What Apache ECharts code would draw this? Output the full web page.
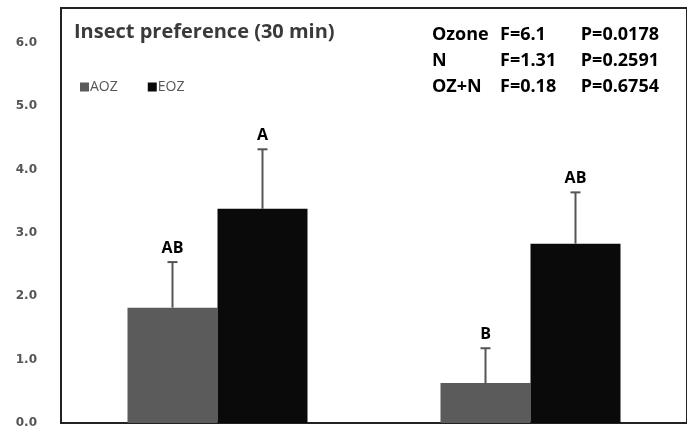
<!DOCTYPE html>
<html>
<head>
<meta charset="utf-8">
<script src="https://cdn.jsdelivr.net/npm/echarts@6/dist/echarts.min.js"></script>
<style>
html,body{margin:0;padding:0;background:#fff;}
#c{width:687px;height:429px;}
</style>
</head>
<body>
<div id="c"></div>
<script>
const categories = ['Group 1', 'Group 2'];
const seriesNames = ['AOZ', 'EOZ'];
const aozValues = [1.82, 0.63];
const eozValues = [3.38, 2.83];
const aozErrors = [0.72, 0.55];
const eozErrors = [0.94, 0.81];
const aozLetters = ['AB', 'B'];
const eozLetters = ['A', 'AB'];
const statRows = [
  ['Ozone', 'F=6.1', 'P=0.0178'],
  ['N', 'F=1.31', 'P=0.2591'],
  ['OZ+N', 'F=0.18', 'P=0.6754']
];
const chartTitle = 'Insect preference (30 min)';

const BAR_W = 90;
const fontMain = '"Open Sans"';

function errorSeries(values, errs, letters, side) {
  return {
    type: 'custom',
    z: 5,
    silent: true,
    data: values.map((v, i) => [i, v, errs[i]]),
    renderItem: function (params, api) {
      const base = api.coord([api.value(0), api.value(1)]);
      const top = api.coord([api.value(0), api.value(1) + api.value(2)]);
      const x = base[0] + side * BAR_W / 2;
      const letter = letters[params.dataIndex];
      return {
        type: 'group',
        children: [
          { type: 'line', shape: { x1: x, y1: base[1], x2: x, y2: top[1] }, style: { stroke: '#555', lineWidth: 2 } },
          { type: 'line', shape: { x1: x - 5, y1: top[1], x2: x + 5, y2: top[1] }, style: { stroke: '#555', lineWidth: 2 } },
          { type: 'text', x: x, y: top[1] - 14, style: { text: letter, fill: '#000', font: 'bold 16px ' + fontMain, align: 'center', verticalAlign: 'middle' } }
        ]
      };
    }
  };
}

const statGraphics = [];
const rowY = [35, 61, 87];
const colX = [432, 500, 659];
const colAlign = ['left', 'left', 'right'];
statRows.forEach((row, r) => {
  row.forEach((txt, c) => {
    statGraphics.push({
      type: 'text', x: colX[c], y: rowY[r],
      style: { text: txt, fill: '#000', font: 'bold 18px ' + fontMain, align: colAlign[c], verticalAlign: 'middle' }
    });
  });
});

const chart = echarts.init(document.getElementById('c'));
chart.setOption({
  animation: false,
  backgroundColor: '#fff',
  grid: { left: 61, right: -4, top: 8, bottom: 4, show: true, borderColor: '#222', borderWidth: 2, containLabel: false },
  legend: {
    data: seriesNames,
    left: 75, top: 75,
    icon: 'rect', itemWidth: 9, itemHeight: 9, itemGap: 30,
    textStyle: { color: '#555', fontFamily: 'Open Sans', fontSize: 14, padding: [0, 0, 0, -4] }
  },
  xAxis: {
    type: 'category', data: categories,
    axisLine: { show: true, lineStyle: { color: '#222', width: 2 } },
    axisTick: { show: false }, axisLabel: { show: false }, splitLine: { show: false }
  },
  yAxis: {
    type: 'value', min: 0, max: 6.55, interval: 1,
    axisLine: { show: false }, axisTick: { show: false }, splitLine: { show: false },
    axisLabel: {
      margin: 24, color: '#555', fontFamily: 'DejaVu Sans', fontWeight: 'bold', fontSize: 12,
      formatter: v => (Math.abs(v - Math.round(v)) < 1e-9 ? v.toFixed(1) : '')
    }
  },
  graphic: [
    { type: 'text', x: 74, y: 32, style: { text: chartTitle, fill: '#3a3a3a', font: 'bold 20px ' + fontMain, align: 'left', verticalAlign: 'middle' } }
  ].concat(statGraphics),
  series: [
    { name: 'AOZ', type: 'bar', data: aozValues, barWidth: BAR_W, barGap: '0%', itemStyle: { color: '#5b5b5b' }, z: 2 },
    { name: 'EOZ', type: 'bar', data: eozValues, barWidth: BAR_W, barGap: '0%', itemStyle: { color: '#0a0a0a' }, z: 2 },
    errorSeries(aozValues, aozErrors, aozLetters, -1),
    errorSeries(eozValues, eozErrors, eozLetters, 1)
  ]
});
</script>
</body>
</html>
